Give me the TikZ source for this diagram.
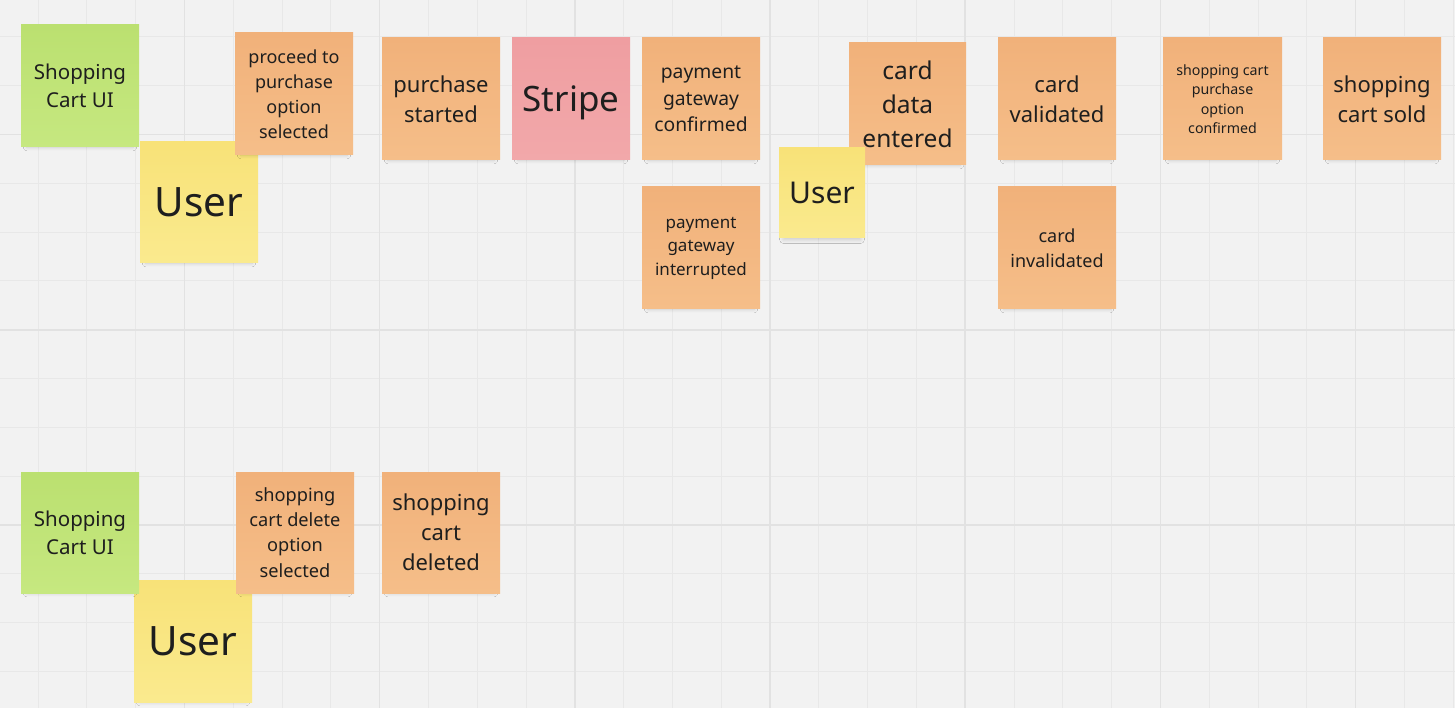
\documentclass[tikz,border=0pt]{standalone}
\usepackage{fontspec}
\setmainfont{Noto Sans}
\usetikzlibrary{shadows.blur}
\definecolor{bg}{HTML}{F2F2F2}
\definecolor{gridminor}{HTML}{E8E8E8}
\definecolor{gridmajor}{HTML}{E2E2E2}
\definecolor{orangeT}{HTML}{F1B17A}
\definecolor{orangeB}{HTML}{F5BE89}
\definecolor{greenT}{HTML}{BBE070}
\definecolor{greenB}{HTML}{C6E880}
\definecolor{yellowT}{HTML}{F8E278}
\definecolor{yellowB}{HTML}{FAEA8E}
\definecolor{pinkT}{HTML}{EF9EA1}
\definecolor{pinkB}{HTML}{F2A8AA}
\definecolor{ink}{HTML}{1E1E1E}
\newcommand{\fs}[2]{\fontsize{#1}{#2}\selectfont}
\tikzset{
  minorline/.style={draw=gridminor, line width=1pt},
  majorline/.style={draw=gridmajor, line width=1.6pt},
  sticky/.style={rectangle, inner sep=0pt, minimum width=118pt, minimum height=122pt,
    align=center, text=ink,
    blur shadow={shadow xshift=0pt, shadow yshift=-7pt, shadow scale=0.9, shadow blur radius=4pt, shadow opacity=16, shadow blur steps=8}},
  orangenote/.style={sticky, top color=orangeT, bottom color=orangeB},
  greennote/.style={sticky, top color=greenT, bottom color=greenB},
  yellownote/.style={sticky, top color=yellowT, bottom color=yellowB},
  pinknote/.style={sticky, top color=pinkT, bottom color=pinkB},
}
\begin{document}
\begin{tikzpicture}[x=1pt,y=-1pt]
\fill[bg] (0,0) rectangle (1455,708);
\useasboundingbox (0,0) rectangle (1455,708);
% grid
\foreach \i in {0,...,29} {
  \pgfmathsetmacro{\xx}{38+48.8*\i}
  \draw[minorline] (\xx,0) -- (\xx,708);
}
\foreach \i in {0,...,13} {
  \pgfmathsetmacro{\yy}{37+48.8*\i}
  \draw[minorline] (0,\yy) -- (1455,\yy);
}
\foreach \i in {3,7,11,15,19,23,27} {
  \pgfmathsetmacro{\xx}{38+48.8*\i}
  \draw[majorline] (\xx,0) -- (\xx,708);
}
\foreach \i in {2,6,10} {
  \pgfmathsetmacro{\yy}{37+48.8*\i}
  \draw[majorline] (0,\yy) -- (1455,\yy);
}
% top row
\node[greennote, font=\fs{20.5}{28}] (ui1) at (80,86) {Shopping\\Cart UI};
\node[yellownote, minimum height=121pt, font=\fs{40.5}{48}] (user1) at (199,202.5) {User};
\node[orangenote, font=\fs{18}{25}] (proceed) at (294,94) {proceed to\\purchase\\option\\selected};
\node[orangenote, font=\fs{22}{30}] (started) at (441,99) {purchase\\started};
\node[pinknote, text depth=0pt, font=\fs{35}{40}] (stripe) at (571,99) {Stripe};
\node[orangenote, font=\fs{19.3}{26.5}] (pgc) at (701,99) {payment\\gateway\\confirmed};
\node[orangenote, font=\fs{17}{23.5}] (pgi) at (701,248) {payment\\gateway\\interrupted};
\node[orangenote, minimum width=117pt, font=\fs{24.5}{34}] (cde) at (907.5,104) {card\\data\\entered};
\node[yellownote, minimum width=86pt, minimum height=90pt, font=\fs{30}{36}] (user2) at (822,193) {User};
\node[orangenote, font=\fs{22}{30}] (valid) at (1057,99) {card\\validated};
\node[orangenote, font=\fs{18}{25}] (invalid) at (1057,248) {card\\invalidated};
\node[orangenote, minimum width=119pt, font=\fs{14.2}{19.5}] (confirmed) at (1222.5,99) {shopping cart\\purchase\\option\\confirmed};
\node[orangenote, font=\fs{22}{30}] (sold) at (1382,99) {shopping\\cart sold};
% bottom row
\node[yellownote, font=\fs{40.5}{48}] (user3) at (193,641) {User};
\node[greennote, minimum height=121pt, font=\fs{20.5}{28}] (ui2) at (80,532.5) {Shopping\\Cart UI};
\node[orangenote, minimum height=121pt, font=\fs{18.2}{25.3}] (delopt) at (295,532.5) {shopping\\cart delete\\option\\selected};
\node[orangenote, minimum height=121pt, font=\fs{22}{30}] (deleted) at (441,532.5) {shopping\\cart\\deleted};
\end{tikzpicture}
\end{document}
